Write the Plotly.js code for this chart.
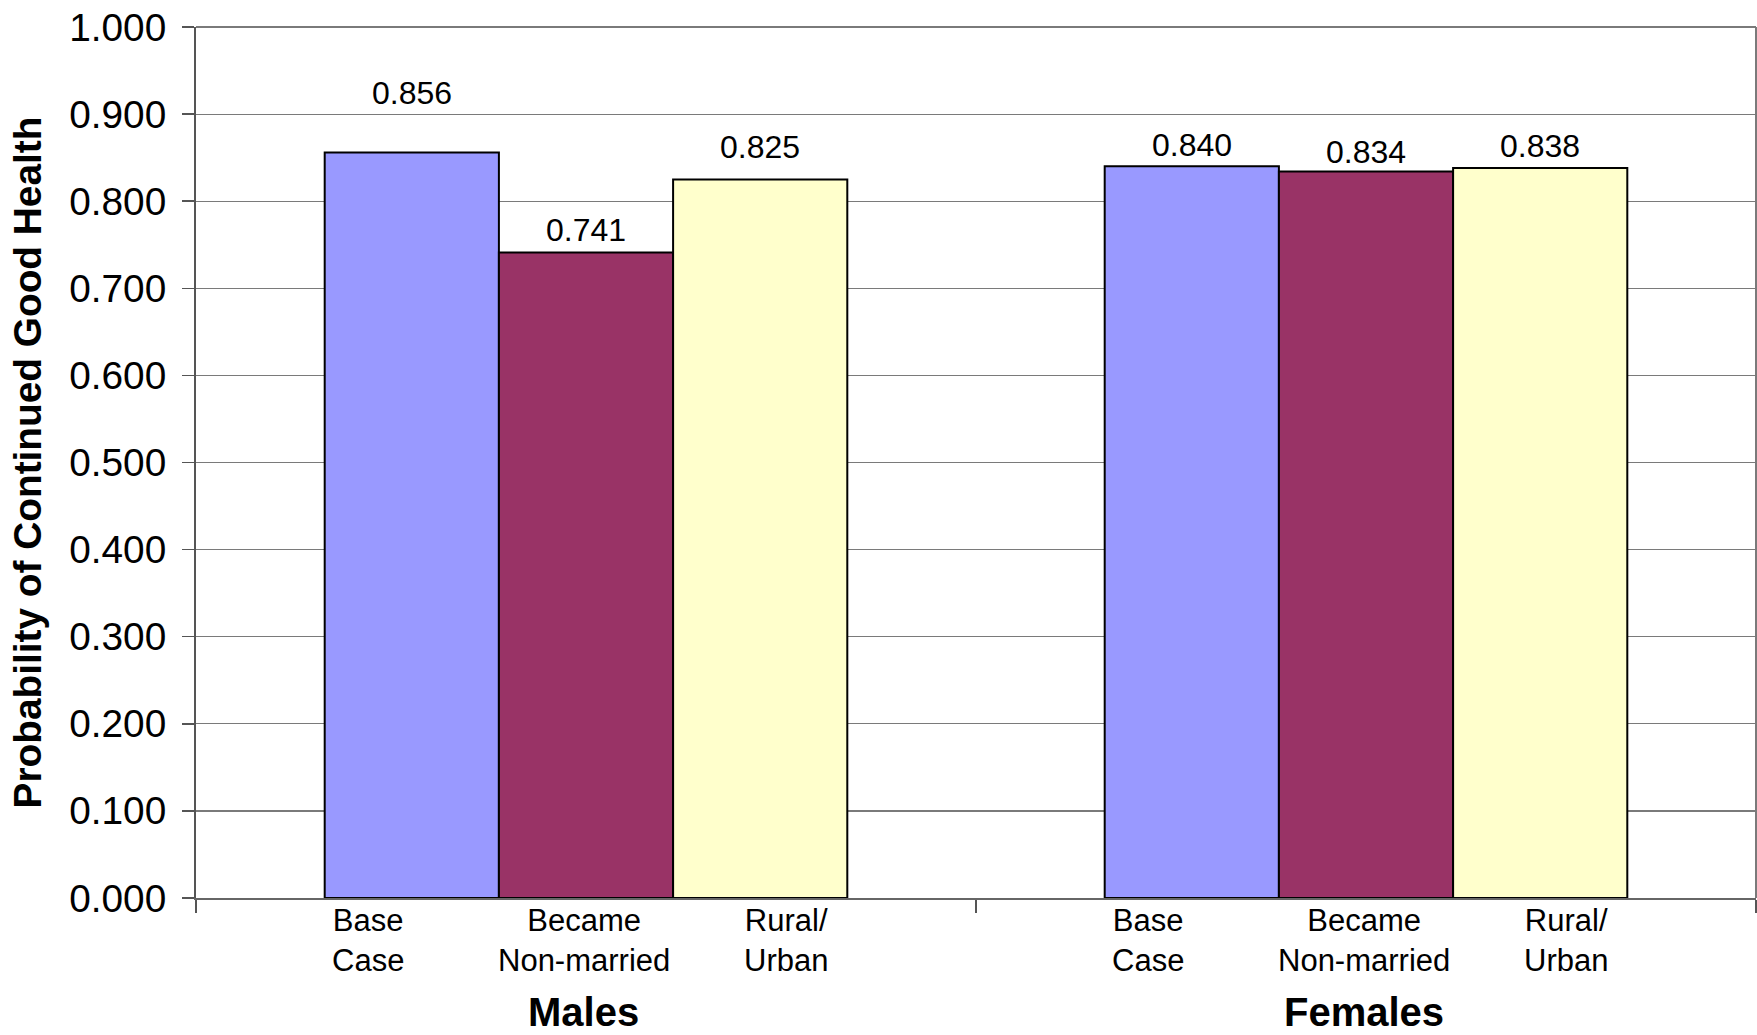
<!DOCTYPE html>
<html>
<head>
<meta charset="utf-8">
<script src="https://cdn.plot.ly/plotly-3.0.1.min.js"></script>
<style>
html,body{margin:0;padding:0;background:#fff;}
#chart{width:1757px;height:1035px;}
</style>
</head>
<body>
<div id="chart"></div>
<script>
// ---- data ----
const groups = ["Males", "Females"];
const scenarios = ["Base<br>Case", "Became<br>Non-married", "Rural/<br>Urban"];
const baseCase = [0.856, 0.840];
const becameNonMarried = [0.741, 0.834];
const ruralUrban = [0.825, 0.838];
const yTickVals = [0, 0.1, 0.2, 0.3, 0.4, 0.5, 0.6, 0.7, 0.8, 0.9, 1.0];

// ---- style ----
const FONT = "Liberation Sans, Arial, sans-serif";
const colors = ["#9999FF", "#993366", "#FFFFCC"];
const bargap = 0.33;
const series = [baseCase, becameNonMarried, ruralUrban];
const labelShift = [[59, 21], [23, 20], [32, 22]]; // px above bar top per series/group
const subLabelOffset = [-0.28, -0.003, 0.256];

const traces = series.map((vals, j) => ({
  type: "bar",
  x: groups,
  y: vals,
  name: scenarios[j],
  marker: {color: colors[j], line: {color: "#000000", width: 2}},
  hoverinfo: "skip"
}));

const bw = (1 - bargap) / 3;
const annotations = [];
series.forEach((vals, j) => {
  vals.forEach((v, i) => {
    annotations.push({
      x: i + (j - 1) * bw, y: v, xref: "x", yref: "y",
      text: v.toFixed(3), showarrow: false,
      yanchor: "middle", yshift: labelShift[j][i],
      font: {family: FONT, size: 32, color: "#000"}
    });
  });
});
groups.forEach((g, i) => {
  scenarios.forEach((s, j) => {
    annotations.push({
      x: i + subLabelOffset[j], y: 0, xref: "x", yref: "paper",
      text: s, showarrow: false, yanchor: "top", yshift: -3,
      align: "center",
      font: {family: FONT, size: 31, color: "#000"}
    });
  });
  annotations.push({
    x: i - 0.003, y: 0, xref: "x", yref: "paper",
      text: "<b>" + g + "</b>", showarrow: false, yanchor: "middle", yshift: -114,
      font: {family: FONT, size: 40, color: "#000"}
  });
});

const layout = {
  width: 1757, height: 1035,
  margin: {l: 196, r: 1, t: 27, b: 137},
  paper_bgcolor: "#fff", plot_bgcolor: "#fff",
  barmode: "group", bargap: bargap, bargroupgap: 0,
  showlegend: false,
  font: {family: FONT, color: "#000"},
  xaxis: {
    type: "category", showticklabels: false,
    tickson: "boundaries", ticks: "outside", ticklen: 13, tickcolor: "#555", tickwidth: 1.5,
    showline: true, linecolor: "#666", linewidth: 2,
    showgrid: false, zeroline: false, range: [-0.5, 1.5]
  },
  yaxis: {
    range: [0, 1], tickvals: yTickVals, tickformat: ".3f",
    ticks: "outside", ticklen: 12, tickcolor: "#555", tickwidth: 1.5,
    showline: true, linecolor: "#555", linewidth: 2,
    showgrid: true, gridcolor: "#7a7a7a", gridwidth: 1.2,
    zeroline: false,
    tickfont: {family: FONT, size: 38.8, color: "#000"},
    ticklabelstandoff: 8,
    title: {text: "<b>Probability of Continued Good Health</b>", font: {family: FONT, size: 38.8, color: "#000"}, standoff: 16}
  },
  shapes: [
    {type: "line", xref: "paper", yref: "paper", x0: 1, x1: 1, y0: 0, y1: 1, line: {color: "#7a7a7a", width: 2}},
    {type: "line", xref: "paper", yref: "paper", x0: 0, x1: 1, y0: 1, y1: 1, line: {color: "#7a7a7a", width: 2}}
  ],
  annotations: annotations
};

Plotly.newPlot("chart", traces, layout, {displayModeBar: false, staticPlot: true});
</script>
</body>
</html>
